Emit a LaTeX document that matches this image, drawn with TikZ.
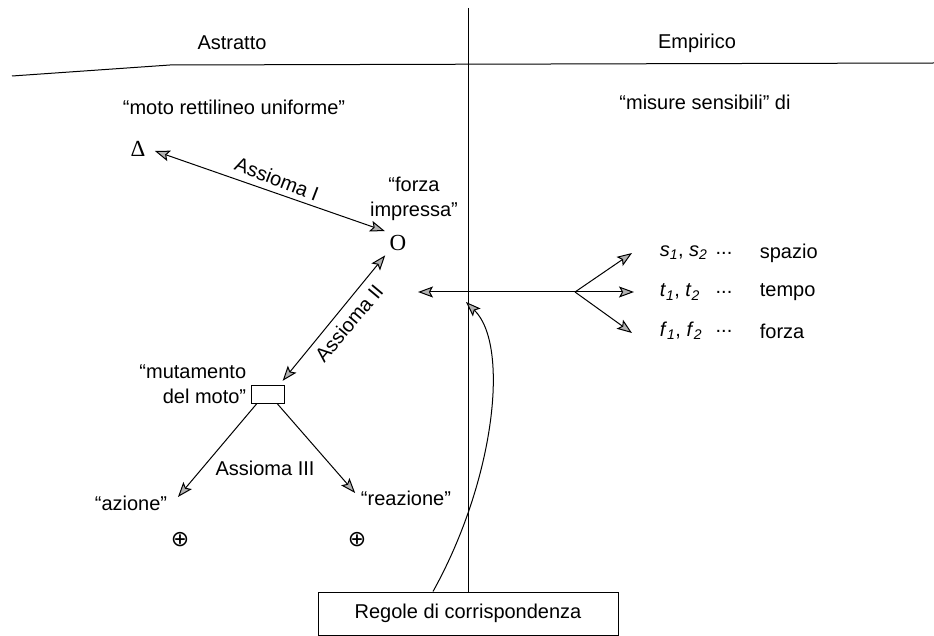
\documentclass[tikz,border=0pt]{standalone}
\usepackage{fontspec}
\setmainfont{Liberation Sans}
\newfontfamily\serfont{Liberation Serif}
\newfontfamily\symfont{DejaVu Sans}
\usetikzlibrary{arrows.meta}
\newcommand{\varpair}[1]{\textit{#1}\textsubscript{\textit{1}}, \textit{#1}\textsubscript{\textit{2}}}
\begin{document}
\begin{tikzpicture}[x=1pt,y=-1pt,line width=1pt,
  every node/.style={font=\fontsize{20}{25}\selectfont},
  tip/.style={-{Stealth[length=15pt,width=11pt,inset=3pt,fill=gray!60]}},
  bitip/.style={{Stealth[length=15pt,width=11pt,inset=3pt,fill=gray!60]}-{Stealth[length=15pt,width=11pt,inset=3pt,fill=gray!60]}},
  symb/.style={font=\symfont\fontsize{22}{24}\selectfont}]
\useasboundingbox (0,0) rectangle (934,636);
%\draw[help lines,step=50] (0,0) grid (934,636);
% headings and frame
\node (astr) at (232,43) {Astratto};
\node (emp) at (697,43) {Empirico};
\node[draw,minimum width=300pt,minimum height=43pt] (rdc) at (468,613.5) {Regole di corrispondenza};
\draw (12,76) -- (170,65) -- (934,63);
\draw (468,8) -- (rdc.north);
% abstract side
\node (mru) at (234,107) {“moto rettilineo uniforme”};
\node[font=\serfont\fontsize{23}{25}\selectfont] (delta) at (138,149) {Δ};
\node[align=center] (forza) at (414,199) {“forza\\impressa”};
\node[font=\serfont\fontsize{23}{25}\selectfont] (O) at (398,243) {O};
\node[draw,minimum width=33pt,minimum height=18pt,inner sep=0pt,line width=0.8pt] (mut) at (268,394) {};
\node[anchor=east,align=right] (mutlab) at (250,384) {“mutamento\\del moto”};
\node (az) at (131,503) {“azione”};
\node (reaz) at (406,498) {“reazione”};
\node[symb] (opA) at (180,540) {⊕};
\node[symb] (opR) at (357,540) {⊕};
\draw[bitip,shorten <=6pt,shorten >=1pt] (delta.east) -- (O.north west);
\node[rotate=-21] (ax1) at (277,179) {Assioma I};
\draw[bitip,shorten <=1pt,shorten >=1pt] ([xshift=14pt,yshift=3pt]mut.north) -- (O.south west);
\node[rotate=50] (ax2) at (349,323) {Assioma II};
\draw[tip] ([xshift=-11pt]mut.south) -- ([yshift=6pt,xshift=7pt]az.east);
\draw[tip] ([xshift=9pt]mut.south) -- ([yshift=5pt,xshift=-2pt]reaz.west);
\node (ax3) at (265,468) {Assioma III};
% empirical side
\node (mis) at (705,102) {“misure sensibili” di};
\coordinate (br) at (575,292);
\coordinate (lt) at (418,292);
\coordinate (hit) at (466,302);
\node[anchor=west] (vs) at (656,253) {\varpair{s}};
\node[anchor=west] (vt) at (656,292) {\varpair{t}};
\node[anchor=west] (vf) at (656,331) {\varpair{f}};
\node (ds) at (724,253) {...};
\node (dt) at (724,292) {...};
\node (df) at (724,331) {...};
\node[anchor=west] (ws) at (756,253) {spazio};
\node[anchor=west] (wt) at (756,292) {tempo};
\node[anchor=west] (wf) at (756,331) {forza};
\draw[tip] (br) -- (lt);
\draw[tip] (br) -- ([xshift=-24pt]vs.west);
\draw[tip] (br) -- ([xshift=-22pt]vt.west);
\draw[tip] (br) -- ([xshift=-24pt,yshift=-2pt]vf.west);
\draw[tip] ([xshift=-35pt]rdc.north) .. controls (495,480) and (510,345) .. (hit);
\end{tikzpicture}
\end{document}
